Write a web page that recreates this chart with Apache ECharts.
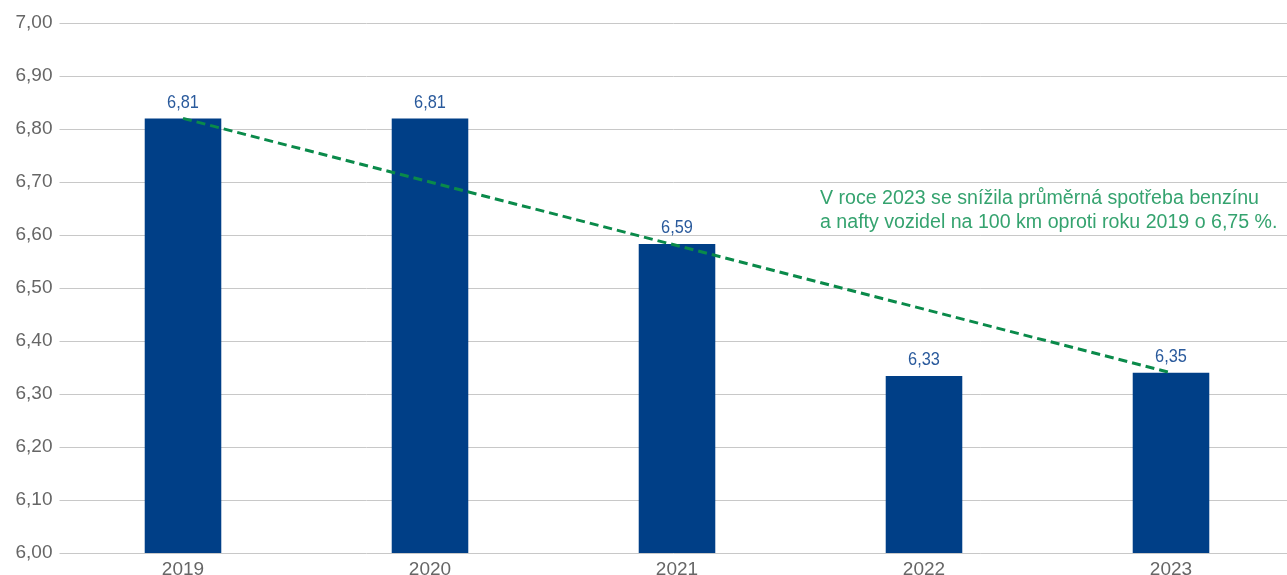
<!DOCTYPE html>
<html><head><meta charset="utf-8">
<script src="https://cdn.jsdelivr.net/npm/echarts@6/dist/echarts.min.js"></script>
<style>html,body{margin:0;padding:0;background:#fff}#c{width:1287px;height:575px}</style>
</head><body><div id="c"></div>
<script>
const categories = ['2019', '2020', '2021', '2022', '2023'];
const barValues = [6.82, 6.82, 6.583, 6.334, 6.34];
const barLabels = ['6,81', '6,81', '6,59', '6,33', '6,35'];
const trendValues = [6.82, null, null, null, 6.34];
const yTicks = ['6,00','6,10','6,20','6,30','6,40','6,50','6,60','6,70','6,80','6,90','7,00'];
const noteLines = ['V roce 2023 se snížila průměrná spotřeba benzínu', 'a nafty vozidel na 100 km oproti roku 2019 o 6,75 %.'];

const chart = echarts.init(document.getElementById('c'));
chart.setOption({
  animation: false,
  grid: { left: 59.5, top: 23, bottom: 22, right: -7.5, outerBoundsMode: 'none', containLabel: false },
  xAxis: {
    type: 'category', data: categories,
    axisLine: { show: false }, axisTick: { show: false },
    axisLabel: { color: '#666', fontSize: 19, fontFamily: 'Liberation Sans, Arial, sans-serif', margin: 7 }
  },
  yAxis: {
    type: 'value', min: 6, max: 7, interval: 0.1,
    axisLine: { show: false }, axisTick: { show: false },
    splitLine: { lineStyle: { color: '#c8c8c8', width: 1 } },
    axisLabel: {
      color: '#666', fontSize: 19, fontFamily: 'Liberation Sans, Arial, sans-serif', margin: 7,
      formatter: v => yTicks[Math.round((v - 6) * 10)]
    }
  },
  series: [
    {
      type: 'bar', data: barValues, barWidth: '31%',
      itemStyle: { color: '#003f87' }
    },
    {
      type: 'custom', data: barValues.map((v, i) => [i, v]), z: 6,
      renderItem: (params, api) => {
        const p = api.coord([api.value(0), api.value(1)]);
        return {
          type: 'text', x: p[0], y: p[1] - 16, scaleX: 0.86,
          style: {
            text: barLabels[params.dataIndex], align: 'center', verticalAlign: 'middle',
            fill: '#2a5a9c', fontSize: 19, fontFamily: 'Liberation Sans, Arial, sans-serif'
          }
        };
      }
    },
    {
      type: 'line', data: trendValues, connectNulls: true, symbol: 'none', z: 5,
      lineStyle: { color: '#0a8a4a', width: 3, type: [9, 5] }
    }
  ],
  graphic: [{
    type: 'text', left: 820, top: 187,
    style: {
      text: noteLines.join('\n'), fill: '#35a36f', fontSize: 19.6, lineHeight: 24,
      fontFamily: 'Liberation Sans, Arial, sans-serif'
    }
  }]
});
</script></body></html>
